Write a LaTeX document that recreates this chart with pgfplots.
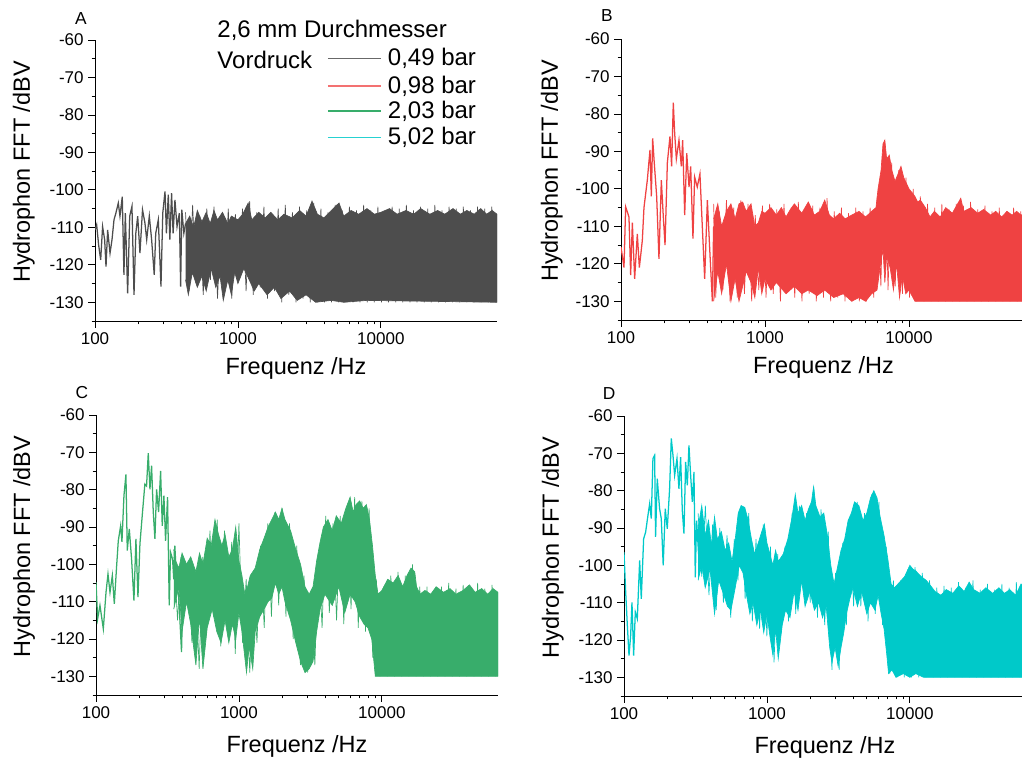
\documentclass[border=0pt]{standalone}
\usepackage{fontspec}
\setmainfont{Liberation Sans}
\usepackage{pgfplots}
\pgfplotsset{compat=1.18}

\definecolor{cA}{HTML}{4D4D4D}
\definecolor{cB}{HTML}{EF4242}
\definecolor{cC}{HTML}{38AD6B}
\definecolor{cD}{HTML}{00C9C9}

\begin{document}
\begin{tikzpicture}
\path[use as bounding box] (0,0) rectangle (766.5pt,568.5pt);

% ---------------- Panel A ----------------
\begin{axis}[scale only axis, xmode=log, xmin=100, xmax=65000, ymin=-135, ymax=-60,
  clip mode=individual,
  axis x line=bottom, axis y line=left, axis line style={-, line width=0.6pt},
  tick align=outside, major tick length=5pt, minor tick length=2.5pt,
  tick style={black, line width=0.6pt},
  xtick={100,1000,10000}, xticklabels={100,1000,10000},
  ytick={-130,-120,-110,-100,-90,-80,-70,-60}, minor ytick={-135,-125,-115,-105,-95,-85,-75,-65},
  ticklabel style={font=\fontsize{12.75}{14}\selectfont},
  yticklabel style={/pgf/number format/assume math mode=true},
  xlabel={Frequenz /Hz}, ylabel={Hydrophon FFT /dBV},
  label style={font=\fontsize{17.6}{20}\selectfont},
  xlabel style={at={(axis description cs:0.5,-0.168)}, anchor=center},
  at={(71.25pt,327.75pt)}, anchor=south west,
  width=301.5pt, height=210.75pt,
  ylabel style={at={(axis description cs:-0.177,0.53)}, anchor=center}]
\addplot[cA, line width=0.95pt] coordinates {(100,-110.7)(102.7,-109.3)(106,-114.7)(109.6,-118.7)(113,-109.8)(116.8,-113.3)(119.4,-120.5)(122.6,-110.7)(127.4,-116.9)(131.5,-113.3)(135.8,-108)(140,-106.2)(145.6,-103.5)(149.5,-107)(155.2,-101.8)(159.4,-122.7)(163,-106.2)(169.2,-127.6)(175,-107)(181.4,-104.4)(187.5,-128)(193,-111.6)(199,-107)(206.3,-116.9)(215,-105.3)(223.7,-108.9)(230,-113.3)(239.9,-107)(249,-113.3)(259.7,-122.7)(266,-111.6)(277.3,-108)(289.5,-125.8)(298,-106.2)(308.9,-100.4)(316,-111.6)(325.7,-101.3)(334,-113.3)(343.5,-100.9)(352,-111.6)(362.6,-102.7)(375,-109.8)(389.3,-106.2)(397.4,-125.8)(405,-105.3)(418.5,-111.6)(430,-109)};
\addplot[cA, line width=0.5pt, fill=cA] coordinates {(430,-109)(460,-107)(490,-110)(520,-105.5)(560,-108.5)(600,-106)(640,-109)(680,-105.5)(720,-108)(780,-106)(850,-109)(900,-107)(1000,-108)(1080,-106.5)(1180,-103.5)(1250,-108)(1400,-106)(1550,-107.5)(1700,-106)(1900,-108)(2100,-106.5)(2400,-107.5)(2700,-105.5)(3000,-107)(3300,-103)(3600,-106.5)(4000,-107.5)(4500,-105.5)(5100,-103.5)(5500,-107)(6200,-105.5)(7000,-106.5)(8000,-105)(9000,-106.5)(10000,-106)(11500,-105)(13000,-106.5)(15000,-105.5)(17000,-106.5)(19000,-105)(22000,-106.5)(25000,-105.5)(28000,-106.5)(32000,-105)(36000,-106.5)(40000,-105.5)(45000,-106.5)(50000,-105)(55000,-106.5)(60000,-105.5)(65000,-106.5)
(65000,-130)(8000,-129.5)(5500,-130)(4500,-129.5)(3500,-130)(3000,-128)(2600,-129.5)(2300,-127)(2000,-129)(1800,-126)(1600,-128)(1400,-125)(1300,-127)(1200,-124)(1100,-121)(1000,-125)(950,-122)(900,-128)(850,-124)(790,-129.5)(750,-123)(700,-126)(650,-121)(600,-127)(560,-123)(520,-126)(480,-122)(450,-128)(430,-124)};
\addplot[cA, line width=0.5pt] coordinates {(430,-106)(455,-127)(482,-104)(510,-125)(540,-107)(572,-128)(606,-105)(642,-124)(680,-104.5)(720,-129)(763,-107)(808,-126)(856,-105)(906,-129)(960,-106.5)(1017,-123)(1077,-105)(1141,-127)(1208,-103)(1280,-128)(1355,-106)(1435,-126)(1520,-104.5)(1610,-129)(1705,-106)(1806,-127)(1913,-105)(2026,-130)(2145,-104)(2272,-128)(2406,-106)(2548,-130)(2699,-104.5)(2858,-129)(3027,-105.5)(3206,-130)(3395,-103.5)(3596,-130)(3808,-105)(4033,-130)(4271,-106)(4523,-130)(4790,-104)(5073,-130)(5373,-105.5)(5690,-130)(6026,-104.5)(6382,-130)(6759,-105.5)(7158,-130)(7581,-104)(8028,-130)(8502,-105.5)(9004,-130)(9536,-104.5)(10099,-130)(10695,-105.5)(11327,-130)(11996,-104.5)(12704,-130)(13454,-105)(14249,-130)(15090,-104)(15981,-130)(16925,-105.5)(17924,-130)(18982,-104.5)(20103,-130)(21290,-105)(22547,-130)(23878,-104)(25288,-130)(26781,-105.5)(28362,-130)(30037,-104.5)(31810,-130)(33688,-105)(35677,-130)(37784,-104.5)(40015,-130)(42377,-105.5)(44880,-130)(47530,-104.5)(50336,-130)(53308,-105)(56455,-130)(59789,-104.5)(63319,-130)};
\node[font=\fontsize{13}{15}\selectfont] at (axis description cs:-0.035,1.075) {A};
\node[anchor=west, inner sep=0pt, font=\fontsize{18}{20}\selectfont] at (axis description cs:0.304,1.036) {2,6 mm Durchmesser};
\node[anchor=west, inner sep=0pt, font=\fontsize{18}{20}\selectfont] at (axis description cs:0.304,0.929) {Vordruck};
\draw[cA!85, line width=0.9pt] (axis description cs:0.579,0.935) -- (axis description cs:0.711,0.935);
\draw[cB!75, line width=0.9pt] (axis description cs:0.579,0.836) -- (axis description cs:0.711,0.836);
\draw[cC, line width=0.9pt] (axis description cs:0.579,0.747) -- (axis description cs:0.711,0.747);
\draw[cD!85, line width=0.9pt] (axis description cs:0.579,0.652) -- (axis description cs:0.711,0.652);
\node[anchor=west, inner sep=0pt, font=\fontsize{18}{20}\selectfont] at (axis description cs:0.728,0.935) {0,49 bar};
\node[anchor=west, inner sep=0pt, font=\fontsize{18}{20}\selectfont] at (axis description cs:0.728,0.836) {0,98 bar};
\node[anchor=west, inner sep=0pt, font=\fontsize{18}{20}\selectfont] at (axis description cs:0.728,0.747) {2,03 bar};
\node[anchor=west, inner sep=0pt, font=\fontsize{18}{20}\selectfont] at (axis description cs:0.728,0.652) {5,02 bar};
\end{axis}

% ---------------- Panel B ----------------
\begin{axis}[scale only axis, xmode=log, xmin=100, xmax=65000, ymin=-135, ymax=-60,
  clip mode=individual,
  axis x line=bottom, axis y line=left, axis line style={-, line width=0.6pt},
  tick align=outside, major tick length=5pt, minor tick length=2.5pt,
  tick style={black, line width=0.6pt},
  xtick={100,1000,10000}, xticklabels={100,1000,10000},
  ytick={-130,-120,-110,-100,-90,-80,-70,-60}, minor ytick={-135,-125,-115,-105,-95,-85,-75,-65},
  ticklabel style={font=\fontsize{12.75}{14}\selectfont},
  yticklabel style={/pgf/number format/assume math mode=true},
  xlabel={Frequenz /Hz}, ylabel={Hydrophon FFT /dBV},
  label style={font=\fontsize{17.6}{20}\selectfont},
  xlabel style={at={(axis description cs:0.5,-0.168)}, anchor=center},
  at={(465.75pt,328.5pt)}, anchor=south west,
  width=303.75pt, height=210.75pt,
  ylabel style={at={(axis description cs:-0.171,0.53)}, anchor=center}]
\addplot[cB, line width=0.95pt] coordinates {(100,-115.5)(104.9,-121)(107.7,-104.8)(113.6,-107.5)(116.7,-123)(119.9,-109)(124.4,-124)(129.8,-112)(134.1,-121)(140.6,-113.8)(144.4,-105)(152.3,-97.7)(159,-89.6)(162.4,-102)(165.9,-86.5)(169.5,-92)(176.9,-102)(183.5,-118.7)(190.6,-97.7)(196.8,-107.5)(202.2,-115)(209.9,-93)(218.8,-86)(224.7,-94)(230.8,-77)(235.8,-85)(242.3,-92)(252.7,-87)(262.4,-94)(268.1,-87)(276.9,-107)(286.1,-90.5)(296.8,-99.5)(304.7,-94)(316.1,-113.3)(324.6,-96.8)(338.6,-99.5)(353.4,-96)(367,-110)(381.2,-124)(398,-103)(415.5,-118)(431,-130)(440,-110)};
\addplot[cB, line width=0.5pt, fill=cB] coordinates {(440,-108)(470,-104)(500,-110)(540,-106)(580,-104)(620,-108)(660,-104)(700,-103.5)(740,-106)(800,-104)(850,-110)(900,-109)(950,-106)(1000,-106.5)(1100,-105)(1200,-107)(1300,-105)(1400,-107.5)(1500,-105.5)(1600,-104)(1800,-106.5)(2000,-103.5)(2200,-107)(2400,-106)(2600,-103)(2800,-107)(3000,-108)(3300,-106.5)(3600,-108)(4000,-107)(4500,-106)(5000,-107.5)(5500,-106)(5900,-105)(6100,-100)(6400,-95)(6600,-88)(6800,-87)(7000,-92)(7300,-91)(7600,-95)(8000,-98)(8400,-96)(8800,-94)(9200,-97)(9600,-98.5)(10000,-100)(10500,-101)(11000,-102)(11500,-103.5)(12000,-103)(13000,-105)(14000,-107.5)(15000,-106)(16500,-107.5)(18000,-105)(20000,-106.5)(22900,-102.5)(24000,-106)(27000,-105)(30000,-106.5)(33000,-105.5)(37000,-107)(40000,-106)(44000,-107.5)(48000,-106)(52000,-107)(56000,-106)(60000,-107)(65000,-106.5)
(65000,-130)(11000,-130)(10000,-127)(9500,-128)(9000,-123)(8600,-129)(8200,-120)(7800,-127)(7400,-121)(7000,-118)(6800,-125)(6600,-116)(6300,-121)(6000,-127)(5500,-128)(5000,-130)(4500,-129)(4000,-130)(3500,-128)(3000,-129)(2600,-127)(2300,-128.5)(2000,-127)(1800,-128)(1600,-126)(1400,-128)(1200,-125)(1100,-127)(1000,-124)(950,-128)(900,-121)(850,-129)(800,-125)(740,-122)(700,-126)(660,-130)(620,-124)(580,-130)(540,-120)(500,-128)(470,-122)(440,-130)};
\addplot[cB, line width=0.5pt] coordinates {(440,-104)(455,-129)(482,-106)(510,-127)(540,-103)(572,-130)(606,-105)(642,-129)(680,-103)(720,-128)(763,-104)(808,-130)(856,-107)(906,-127)(960,-104.5)(1017,-129)(1077,-104)(1141,-128)(1208,-105.5)(1280,-130)(1355,-104)(1435,-127)(1520,-105)(1610,-129)(1705,-103.5)(1806,-130)(1913,-105)(2026,-128)(2145,-104.5)(2272,-130)(2406,-105)(2548,-129)(2699,-102.5)(2858,-130)(3027,-106)(3206,-129)(3395,-105)(3596,-130)(3808,-106.5)(4033,-130)(4271,-105)(4523,-130)(4790,-106)(5073,-130)(5373,-105)(5690,-129)(6026,-102)(6382,-126)(6759,-87)(7158,-127)(7581,-93)(8028,-126)(8502,-95)(9004,-128)(9536,-97)(10099,-129)(10695,-100)(11327,-130)(11996,-102)(12704,-130)(13454,-104)(14249,-130)(15090,-105)(15981,-130)(16925,-104)(17924,-130)(18982,-105.5)(20103,-130)(21290,-104)(22547,-130)(23878,-104.5)(25288,-130)(26781,-103.5)(28362,-130)(30037,-105.5)(31810,-130)(33688,-104.5)(35677,-130)(37784,-106)(40015,-130)(42377,-105)(44880,-130)(47530,-106)(50336,-130)(53308,-105)(56455,-130)(59789,-106)(63319,-130)};
\node[font=\fontsize{13}{15}\selectfont] at (axis description cs:-0.035,1.082) {B};
\end{axis}

% ---------------- Panel C ----------------
\begin{axis}[scale only axis, xmode=log, xmin=100, xmax=65000, ymin=-135, ymax=-60,
  clip mode=individual,
  axis x line=bottom, axis y line=left, axis line style={-, line width=0.6pt},
  tick align=outside, major tick length=5pt, minor tick length=2.5pt,
  tick style={black, line width=0.6pt},
  xtick={100,1000,10000}, xticklabels={100,1000,10000},
  ytick={-130,-120,-110,-100,-90,-80,-70,-60}, minor ytick={-135,-125,-115,-105,-95,-85,-75,-65},
  ticklabel style={font=\fontsize{12.75}{14}\selectfont},
  yticklabel style={/pgf/number format/assume math mode=true},
  xlabel={Frequenz /Hz}, ylabel={Hydrophon FFT /dBV},
  label style={font=\fontsize{17.6}{20}\selectfont},
  xlabel style={at={(axis description cs:0.5,-0.185)}, anchor=center},
  at={(72pt,47.25pt)}, anchor=south west,
  width=301.5pt, height=210pt,
  ylabel style={at={(axis description cs:-0.179,0.53)}, anchor=center}]
\addplot[cC, line width=0.95pt] coordinates {(100,-104.8)(102.7,-114.6)(106.6,-111)(112.5,-117.3)(117.5,-107.5)(121.3,-102.6)(125.3,-107.5)(130.1,-103)(134.3,-110.6)(139.5,-100.3)(143.2,-93.7)(148.7,-89.7)(151.9,-94)(156.9,-81.6)(162,-75.9)(165.5,-96.3)(171,-90.5)(177.4,-98.6)(184.3,-109.7)(190.3,-93.2)(196.6,-108.8)(203,-94.5)(211.6,-86)(219.8,-78.5)(225.8,-79)(232.1,-70.2)(238.5,-79.9)(244.9,-73.6)(251.6,-86)(258.4,-93.2)(265.4,-79.9)(274.1,-86)(283.2,-75)(290.8,-89.7)(298.7,-81.6)(306.8,-93.7)(316.8,-82)(325.4,-111)(332.5,-96.8)(343.3,-98.6)(350,-104)(356.2,-95)(366,-103.9)(379.9,-109.2)(396.7,-123.5)(407.5,-104)(420.7,-110)(434.4,-100)};
\addplot[cC, line width=0.5pt, fill=cC] coordinates {(350,-98)(380,-101)(400,-97)(430,-100)(460,-98)(500,-102)(530,-97)(560,-100)(600,-93)(640,-95)(680,-88)(720,-92)(760,-95)(800,-92)(850,-98)(900,-96)(950,-90)(1000,-99)(1050,-103)(1100,-108)(1150,-106)(1200,-103)(1300,-101)(1400,-96)(1500,-93)(1600,-90)(1700,-88)(1800,-86)(1900,-88)(2000,-85)(2100,-88)(2300,-91)(2500,-96)(2700,-100)(2900,-106)(3100,-108)(3300,-106)(3500,-99)(3700,-94)(3900,-90)(4200,-88)(4500,-91)(4800,-87)(5200,-89)(5600,-85)(6000,-82)(6300,-86)(6600,-84)(7000,-83)(7400,-85)(7800,-84)(8200,-88)(8600,-95)(9000,-103)(9400,-108)(10000,-107)(11000,-104)(12000,-105)(13000,-103)(14000,-106)(15000,-103)(16000,-101)(17000,-102)(17500,-106)(18500,-108)(20000,-107)(22000,-108)(24000,-106)(27000,-107.5)(30000,-106.5)(33000,-108)(37000,-107)(41000,-105.5)(45000,-107.5)(50000,-106.5)(55000,-108)(60000,-106.5)(65000,-107.5)
(65000,-130)(9000,-130)(8800,-126)(8500,-120)(8000,-117)(7500,-116)(7000,-114)(6500,-110)(6000,-108)(5500,-113)(5000,-106)(4500,-111)(4000,-108)(3700,-112)(3500,-118)(3300,-126)(3100,-128)(2900,-129)(2700,-126)(2500,-121)(2300,-115)(2100,-110)(2000,-106)(1900,-108)(1800,-105)(1700,-109)(1600,-110)(1500,-112)(1400,-114)(1300,-118)(1250,-128)(1180,-122)(1130,-129)(1100,-125)(1050,-118)(1000,-113)(950,-120)(900,-116)(850,-121)(800,-115)(750,-121)(700,-118)(650,-112)(600,-117)(560,-128)(530,-114)(500,-127)(460,-116)(430,-110)(400,-118)(380,-106)(350,-112)};
\addplot[cC, line width=0.5pt] coordinates {(350,-96)(372,-115)(394,-98)(417,-108)(442,-99)(469,-121)(497,-103)(527,-128)(558,-98)(592,-119)(627,-91)(665,-114)(705,-88)(747,-122)(792,-91)(840,-118)(890,-94)(943,-124)(1000,-89)(1060,-121)(1124,-104)(1191,-129)(1262,-104)(1338,-121)(1418,-95)(1503,-117)(1594,-89)(1689,-114)(1791,-86)(1898,-111)(2012,-85)(2133,-114)(2261,-89)(2396,-120)(2540,-95)(2693,-127)(2854,-103)(3026,-129)(3207,-107)(3400,-127)(3604,-97)(3820,-117)(4049,-87)(4292,-113)(4550,-89)(4823,-115)(5112,-87)(5419,-116)(5744,-84)(6089,-112)(6454,-82)(6841,-117)(7252,-83)(7687,-118)(8148,-85)(8637,-125)(9155,-104)(9704,-130)(10287,-106)(10904,-130)(11558,-103)(12251,-130)(12987,-102)(13766,-130)(14592,-103)(15467,-130)(16395,-100)(17379,-130)(18422,-106)(19527,-130)(20699,-106)(21941,-130)(23257,-107)(24653,-130)(26132,-106)(27700,-130)(29362,-105)(31123,-130)(32991,-106.5)(34970,-130)(37068,-105.5)(39292,-130)(41650,-106.5)(44149,-130)(46798,-105)(49606,-130)(52582,-106.5)(55737,-130)(59081,-105.5)(62626,-130)};
\node[font=\fontsize{13}{15}\selectfont] at (axis description cs:-0.035,1.08) {C};
\end{axis}

% ---------------- Panel D ----------------
\begin{axis}[scale only axis, xmode=log, xmin=100, xmax=65000, ymin=-135, ymax=-60,
  clip mode=individual,
  axis x line=bottom, axis y line=left, axis line style={-, line width=0.6pt},
  tick align=outside, major tick length=5pt, minor tick length=2.5pt,
  tick style={black, line width=0.6pt},
  xtick={100,1000,10000}, xticklabels={100,1000,10000},
  ytick={-130,-120,-110,-100,-90,-80,-70,-60}, minor ytick={-135,-125,-115,-105,-95,-85,-75,-65},
  ticklabel style={font=\fontsize{12.75}{14}\selectfont},
  yticklabel style={/pgf/number format/assume math mode=true},
  xlabel={Frequenz /Hz}, ylabel={Hydrophon FFT /dBV},
  label style={font=\fontsize{17.6}{20}\selectfont},
  xlabel style={at={(axis description cs:0.5,-0.185)}, anchor=center},
  at={(468pt,46.5pt)}, anchor=south west,
  width=301.5pt, height=210pt,
  ylabel style={at={(axis description cs:-0.177,0.53)}, anchor=center}]
\addplot[cD, line width=0.95pt] coordinates {(100,-96.5)(102.7,-107)(105.5,-116)(108.4,-124.2)(111.3,-118.8)(113.7,-109.9)(116.8,-124.2)(120,-112.5)(123.9,-114.3)(128.7,-98.7)(132.1,-109)(137.2,-92.9)(141.7,-91.1)(147.1,-86.6)(151.2,-83.5)(155.2,-87.5)(159.4,-71.4)(163.8,-70.5)(166.3,-92.4)(170.9,-76.8)(177.4,-84.8)(182.3,-87.5)(188.1,-100)(194.4,-84.8)(200.8,-90.2)(208.5,-79.5)(214.2,-66)(220.1,-70.5)(226.1,-75.9)(234.8,-71.4)(242.3,-79.5)(249,-71)(255.8,-85.3)(262.7,-91.5)(269.9,-72.3)(277.3,-78.6)(284.8,-67.9)(292.6,-75.9)(300.6,-83)(308.8,-75)(315.3,-103.2)(322.1,-88)(332.6,-97)};
\addplot[cD, line width=0.5pt, fill=cD] coordinates {(330,-90)(350,-84)(370,-92)(390,-88)(410,-95)(430,-87)(450,-93)(480,-91)(510,-96)(540,-94)(570,-99)(600,-93)(630,-86)(660,-84)(700,-84.5)(740,-88)(780,-93)(820,-97)(870,-94)(920,-91)(960,-89)(1000,-94)(1050,-97)(1100,-100)(1150,-96)(1200,-99)(1300,-97)(1400,-93)(1500,-87)(1580,-81)(1650,-86)(1750,-84)(1850,-88)(1950,-85)(2050,-83)(2120,-79)(2200,-84)(2350,-87)(2500,-86)(2650,-92)(2800,-100)(2950,-105)(3100,-101)(3300,-96)(3500,-93)(3700,-88)(3900,-86)(4100,-83)(4400,-84)(4700,-88)(5000,-86)(5300,-82)(5600,-80)(5900,-82)(6200,-87)(6600,-92)(7000,-98)(7400,-105)(7800,-106)(8500,-104.5)(9200,-103)(10000,-100)(10500,-101)(11000,-101.5)(12000,-103)(13000,-104)(14000,-105.5)(15000,-107)(16500,-108)(18000,-106.5)(20000,-107.5)(22000,-105.5)(24000,-107)(26000,-104.5)(28000,-106.5)(31000,-107.5)(34000,-106)(38000,-107.5)(42000,-106)(46000,-107.5)(50000,-106.5)(55000,-108)(60000,-105)(65000,-106.5)
(65000,-130)(12500,-130)(11000,-129)(10000,-130)(9000,-129)(8000,-130)(7500,-128)(7100,-129)(6900,-124)(6600,-117)(6300,-113)(6000,-108)(5700,-112)(5300,-110)(5000,-113)(4600,-107)(4300,-111)(4000,-106)(3800,-109)(3600,-113)(3450,-118)(3300,-122)(3150,-127)(3000,-122)(2850,-126)(2750,-122)(2600,-111)(2450,-114)(2300,-110)(2150,-112)(2000,-107)(1850,-111)(1750,-104)(1650,-112)(1550,-107)(1450,-114)(1350,-112)(1280,-116)(1200,-125)(1150,-117)(1100,-124)(1050,-119)(1000,-113)(950,-118)(900,-112)(850,-116)(800,-110)(760,-113)(720,-108)(680,-102)(640,-100)(600,-106)(560,-112)(530,-111)(500,-108)(460,-104)(430,-113)(400,-101)(370,-106)(350,-100)(330,-104)};
\addplot[cD, line width=0.5pt] coordinates {(330,-86)(350,-103)(371,-84)(393,-108)(417,-89)(442,-112)(468,-90)(496,-110)(526,-92)(558,-114)(591,-93)(627,-104)(664,-84)(704,-109)(746,-86)(791,-115)(839,-93)(889,-117)(942,-89)(999,-119)(1059,-95)(1122,-126)(1189,-97)(1261,-118)(1336,-95)(1416,-115)(1501,-86)(1591,-113)(1687,-84)(1788,-106)(1895,-86)(2009,-110)(2130,-79)(2257,-114)(2393,-85)(2536,-116)(2688,-91)(2850,-128)(3021,-102)(3202,-128)(3394,-94)(3598,-116)(3814,-87)(4042,-111)(4285,-83)(4542,-111)(4815,-86)(5103,-115)(5409,-81)(5734,-113)(6078,-83)(6443,-116)(6829,-95)(7239,-129)(7673,-104)(8134,-130)(8622,-104)(9139,-130)(9687,-101)(10268,-130)(10884,-100.5)(11537,-130)(12229,-102)(12963,-130)(13741,-104)(14565,-130)(15439,-106)(16366,-130)(17348,-105.5)(18389,-130)(19492,-106)(20661,-130)(21901,-104.5)(23215,-130)(24608,-106)(26085,-130)(27650,-104)(29309,-130)(31067,-106.5)(32931,-130)(34907,-105)(37001,-130)(39221,-106.5)(41575,-130)(44069,-105)(46713,-130)(49516,-106)(52487,-130)(55636,-104.5)(58974,-130)(62513,-106)};
\node[font=\fontsize{13}{15}\selectfont] at (axis description cs:-0.037,1.08) {D};
\end{axis}
\end{tikzpicture}
\end{document}
